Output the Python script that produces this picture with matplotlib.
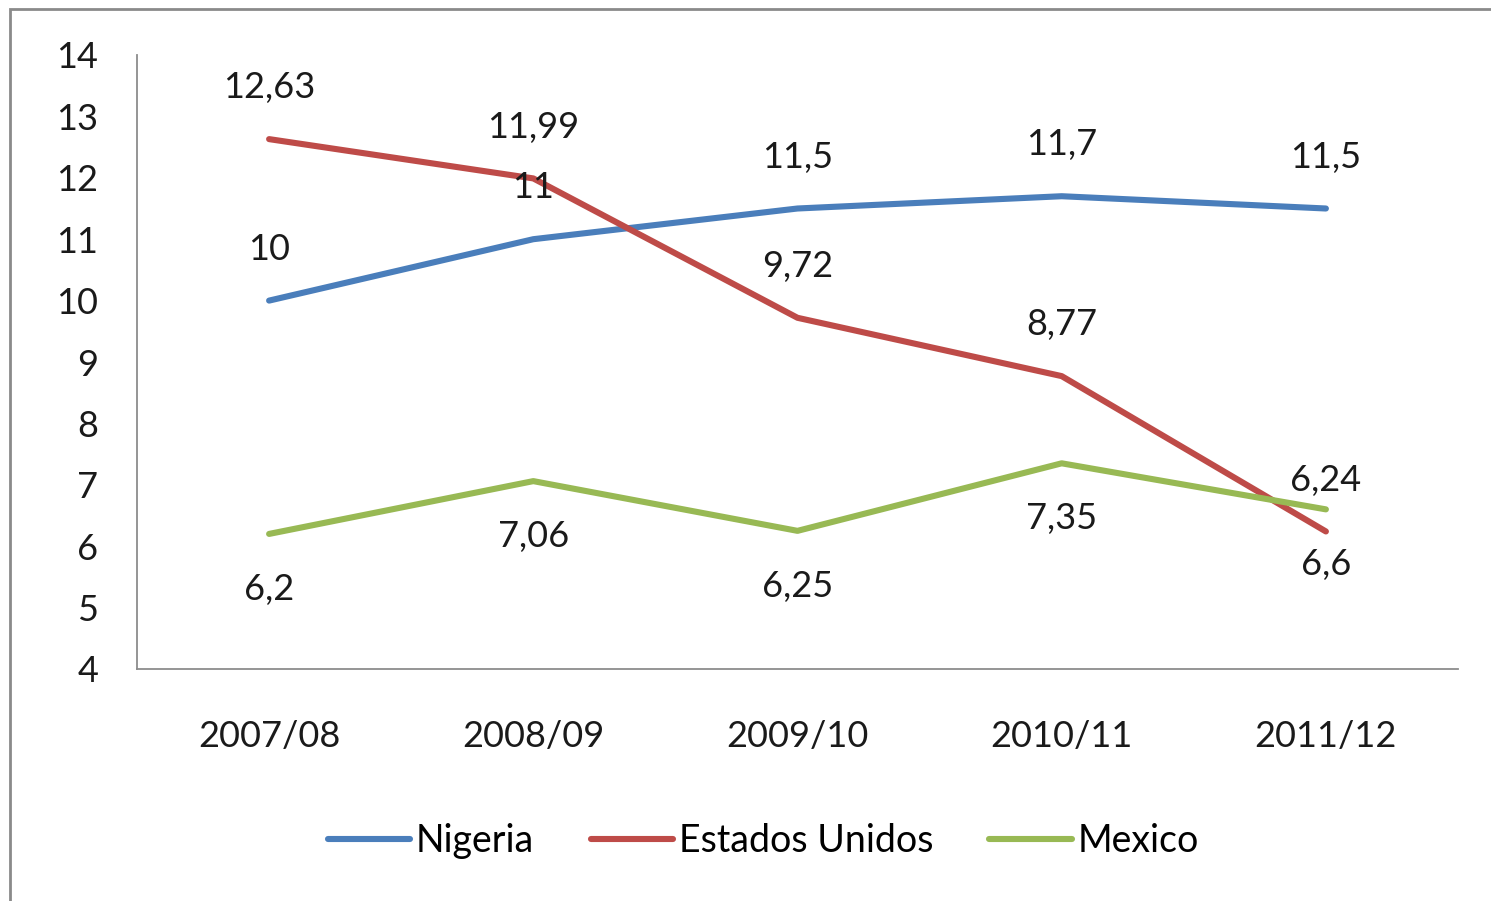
import numpy as np
import matplotlib.pyplot as plt
from matplotlib.patches import Rectangle

# datos
years = ["2007/08", "2008/09", "2009/10", "2010/11", "2011/12"]
nigeria = [10, 11, 11.5, 11.7, 11.5]
eeuu = [12.63, 11.99, 9.72, 8.77, 6.24]
mexico = [6.2, 7.06, 6.25, 7.35, 6.6]
yticks = list(range(4, 15))

plt.rcParams['font.family'] = ['Lato', 'DejaVu Sans']

fig = plt.figure(figsize=(14.91, 9.01), dpi=100)
ax = fig.add_axes([137/1491, 1 - 669/901, (1458 - 137)/1491, (669 - 55)/901])

x = np.arange(len(years))
series = [
    ("Nigeria", nigeria, "#4A7EBB", 1),
    ("Estados Unidos", eeuu, "#BE4B48", 1),
    ("Mexico", mexico, "#98B954", -1),
]
for name, vals, col, side in series:
    ax.plot(x, vals, color=col, lw=4.4, solid_capstyle='round', label=name)
    for xi, v in zip(x, vals):
        txt = ("%g" % v).replace(".", ",")
        off = 37 if side > 0 else -40
        ax.annotate(txt, (xi, v), xytext=(0, off), textcoords='offset points',
                    ha='center', va='center', fontsize=26, color='#1a1a1a')

ax.set_xlim(-0.5, len(years) - 0.5)
ax.set_ylim(4, 14)
ax.set_yticks(yticks)
ax.set_xticks(x)
ax.set_xticklabels(years)
ax.tick_params(axis='both', length=0, labelsize=26, colors='#1a1a1a')
ax.tick_params(axis='y', pad=28)
ax.tick_params(axis='x', pad=37)
for s in ['top', 'right']:
    ax.spines[s].set_visible(False)
for s in ['left', 'bottom']:
    ax.spines[s].set_color('#8c8c8c')
    ax.spines[s].set_linewidth(1.3)

fig.legend(loc='center', bbox_to_anchor=(0.512, 1 - 841/901), ncol=3, frameon=False,
           fontsize=27, handlelength=2.2, handletextpad=0.15, columnspacing=1.5)

# borde exterior
fig.patches.append(Rectangle((10/1491, -0.1), 2, 1.1 - 9/901, transform=fig.transFigure,
                             fill=False, edgecolor='#8a8a8a', lw=2))

fig.savefig("out.png", dpi=100)
